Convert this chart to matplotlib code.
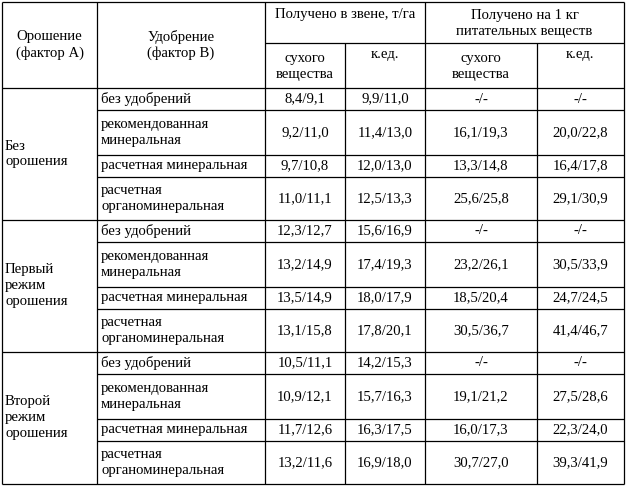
import matplotlib.pyplot as plt

groups = ["Без\nорошения", "Первый\nрежим\nорошения", "Второй\nрежим\nорошения"]
fertilizers = ["без удобрений", "рекомендованная\nминеральная",
               "расчетная минеральная", "расчетная\nорганоминеральная"]
dry_yield = ["8,4/9,1", "9,2/11,0", "9,7/10,8", "11,0/11,1",
             "12,3/12,7", "13,2/14,9", "13,5/14,9", "13,1/15,8",
             "10,5/11,1", "10,9/12,1", "11,7/12,6", "13,2/11,6"]
feed_yield = ["9,9/11,0", "11,4/13,0", "12,0/13,0", "12,5/13,3",
              "15,6/16,9", "17,4/19,3", "18,0/17,9", "17,8/20,1",
              "14,2/15,3", "15,7/16,3", "16,3/17,5", "16,9/18,0"]
dry_per_kg = ["-/-", "16,1/19,3", "13,3/14,8", "25,6/25,8",
              "-/-", "23,2/26,1", "18,5/20,4", "30,5/36,7",
              "-/-", "19,1/21,2", "16,0/17,3", "30,7/27,0"]
feed_per_kg = ["-/-", "20,0/22,8", "16,4/17,8", "29,1/30,9",
               "-/-", "30,5/33,9", "24,7/24,5", "41,4/46,7",
               "-/-", "27,5/28,6", "22,3/24,0", "39,3/41,9"]

plt.rcParams['font.family'] = ['Liberation Serif', 'DejaVu Serif']
fs = 10.6
fig = plt.figure(figsize=(6.27, 4.91), dpi=100)
ax = fig.add_axes([0, 0, 1, 1])
ax.set_xlim(0, 627)
ax.set_ylim(491, 0)
ax.axis('off')

xs = [2, 97, 265, 345, 425, 537, 624]
row_h = [22, 45, 22, 43]
top, h1, h2 = 2, 43, 88
ys = [h2]
for g in range(3):
    for r in row_h:
        ys.append(ys[-1] + r)

def line(x0, y0, x1, y1):
    ax.plot([x0, x1], [y0, y1], color='black', lw=0.9, solid_capstyle='butt')

line(xs[0], top, xs[-1], top)
line(xs[2], h1, xs[-1], h1)
for x in xs:
    y0 = top if x in (xs[0], xs[1], xs[2], xs[4], xs[6]) else h1
    line(x, y0, x, ys[-1])
for i, y in enumerate(ys):
    x0 = xs[0] if i % 4 == 0 else xs[1]
    line(x0, y, xs[-1], y)

kw = dict(fontsize=fs, va='center', linespacing=1.3)
ax.text((xs[0] + xs[1]) / 2, (top + h2) / 2, "Орошение\n(фактор А)", ha='center', **kw)
ax.text((xs[1] + xs[2]) / 2, (top + h2) / 2, "Удобрение\n(фактор В)", ha='center', **kw)
ax.text((xs[2] + xs[4]) / 2, 14, "Получено в звене, т/га", ha='center', **kw)
ax.text((xs[4] + xs[6]) / 2, 23, "Получено на 1 кг\nпитательных веществ", ha='center', **kw)
for c, lab in zip(range(2, 6), ["сухого\nвещества", "к.ед.", "сухого\nвещества", "к.ед."]):
    yy = (h1 + h2) / 2 + 1 if "\n" in lab else 54
    ax.text((xs[c] + xs[c + 1]) / 2, yy, lab, ha='center', **kw)

cols = [dry_yield, feed_yield, dry_per_kg, feed_per_kg]
for g, gname in enumerate(groups):
    ax.text(5, (ys[g * 4] + ys[g * 4 + 4]) / 2, gname, ha='left', **kw)
    for r, fert in enumerate(fertilizers):
        i = g * 4 + r
        yc = (ys[i] + ys[i + 1]) / 2
        ax.text(101, yc, fert, ha='left', **kw)
        for c, col in enumerate(cols):
            ax.text((xs[c + 2] + xs[c + 3]) / 2, yc, col[i], ha='center', **kw)

fig.savefig("out.png", dpi=100, facecolor='white')
